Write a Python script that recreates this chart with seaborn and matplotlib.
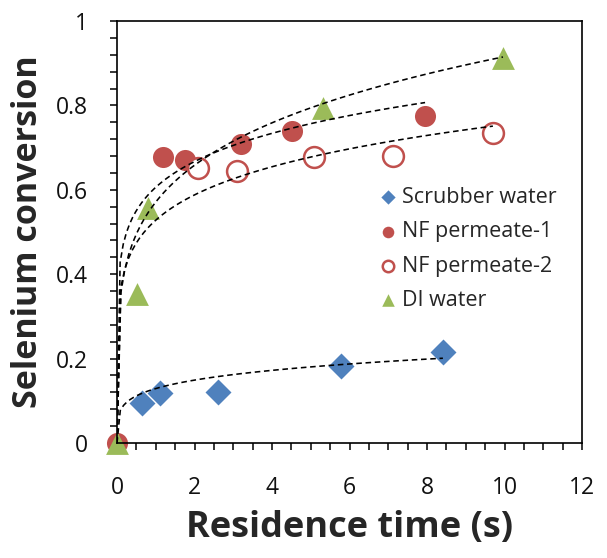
import numpy as np
import matplotlib
matplotlib.use("Agg")
import matplotlib.pyplot as plt
from matplotlib.ticker import MultipleLocator, FuncFormatter
import seaborn as sns

# ---- data ----
scrub_x = [0.65, 1.11, 2.60, 5.78, 8.41]
scrub_y = [0.095, 0.118, 0.121, 0.182, 0.216]

nf1_x = [0.0, 1.19, 1.75, 3.20, 4.52, 7.95]
nf1_y = [0.0, 0.678, 0.671, 0.709, 0.739, 0.775]

nf2_x = [2.09, 3.10, 5.08, 7.12, 9.70]
nf2_y = [0.651, 0.645, 0.677, 0.680, 0.734]

di_x = [0.0, 0.52, 0.80, 5.32, 9.96]
di_y = [0.0, 0.353, 0.556, 0.793, 0.912]

labels = ["Scrubber water", "NF permeate-1", "NF permeate-2", "DI water"]
x_ticks = [0, 2, 4, 6, 8, 10, 12]
y_ticks = [0, 0.2, 0.4, 0.6, 0.8, 1.0]

# power-law trendlines y = a * x^b shown in the reference (coefficients
# estimated from the drawn curves), one per series, drawn up to the last point
trend_a = [0.129, 0.606, 0.528, 0.571]
trend_b = [0.208, 0.138, 0.155, 0.205]

BLUE = "#4F81BD"
RED = "#C0504D"
GREEN = "#9BBB59"

sns.set_style("white")
plt.rcParams["font.family"] = ["Open Sans", "DejaVu Sans"]

fig = plt.figure(figsize=(6.07, 5.58), dpi=100)
ax = fig.add_axes([117 / 607, 1 - 443 / 558, (582 - 117) / 607, (443 - 21) / 558])

# markers
sns.scatterplot(x=scrub_x, y=scrub_y, marker="D", s=175, color=BLUE,
                linewidth=0, clip_on=False, zorder=2, label=labels[0], ax=ax)
sns.scatterplot(x=nf1_x, y=nf1_y, marker="o", s=230, color=RED,
                linewidth=0, clip_on=False, zorder=2, label=labels[1], ax=ax)
sns.scatterplot(x=nf2_x, y=nf2_y, marker="o", s=225, color="white",
                edgecolor=RED, linewidth=1.8, clip_on=False, zorder=2,
                label=labels[2], ax=ax)
sns.scatterplot(x=di_x, y=di_y, marker="^", s=270, color=GREEN,
                linewidth=0, clip_on=False, zorder=2, label=labels[3], ax=ax)

# trendlines
for xs, a, b in zip([scrub_x, nf1_x, nf2_x, di_x], trend_a, trend_b):
    gx = np.linspace(0, max(xs), 100)
    gy = a * gx ** b
    sns.lineplot(x=gx, y=gy, color="black", linewidth=1.15, estimator=None,
                 sort=False, linestyle=(0, (3.5, 2.3)), zorder=3, ax=ax,
                 legend=False)

ax.set_xlim(0, 12)
ax.set_ylim(0, 1)
ax.set_xticks(x_ticks)
ax.set_yticks(y_ticks)
ax.xaxis.set_minor_locator(MultipleLocator(0.5))
ax.yaxis.set_minor_locator(MultipleLocator(0.04))
ax.yaxis.set_major_formatter(FuncFormatter(lambda v, p: f"{v:g}"))
ax.tick_params(which="both", direction="out", length=5, width=1.1,
               color="black", labelsize=16.5, labelcolor="#111111",
               bottom=True, left=True, top=False, right=False)
ax.tick_params(axis="x", which="both", pad=19)
ax.tick_params(axis="y", which="both", pad=16)
for sp in ax.spines.values():
    sp.set_visible(True)
    sp.set_color("black")
    sp.set_linewidth(1.2)

ax.set_xlabel("Residence time (s)", fontsize=26, fontweight="bold", labelpad=7)
ax.set_ylabel("Selenium conversion", fontsize=24.5, fontweight="bold", labelpad=8)

ax.legend(loc="upper left", bbox_to_anchor=(0.566, 0.607), frameon=False,
          fontsize=15.5, markerscale=0.55, handlelength=0.7, handletextpad=0.3,
          labelspacing=0.62, borderpad=0, borderaxespad=0)

fig.savefig("out.png", dpi=100)
